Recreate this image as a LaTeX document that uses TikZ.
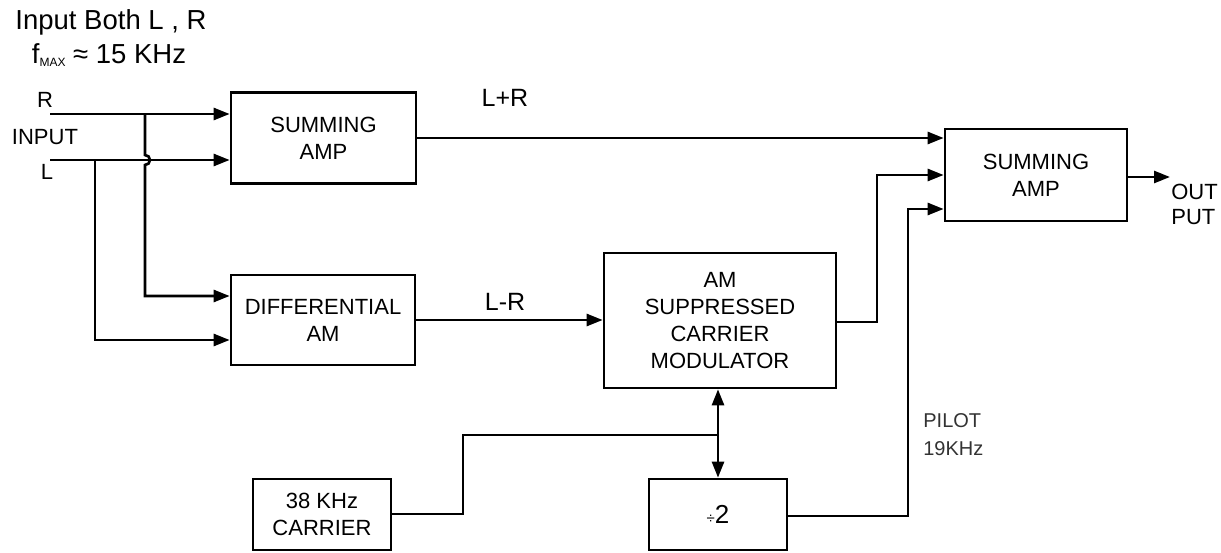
\documentclass[tikz,border=0pt]{standalone}
\usepackage{fontspec}
\setmainfont{Liberation Sans}
\usetikzlibrary{arrows.meta,calc}
\begin{document}
\begin{tikzpicture}[x=1pt,y=-1pt,
  line width=2.7pt, line join=miter,
  blk/.style={draw, rectangle, inner sep=0pt, align=center,
    font=\fontsize{22}{27}\selectfont},
  arr/.style={-{Triangle[length=16pt,width=12pt]}},
  darr/.style={{Triangle[length=16pt,width=12pt]}-{Triangle[length=16pt,width=12pt]}},
  lbl/.style={inner sep=0pt, font=\fontsize{22}{26}\selectfont},
  sig/.style={inner sep=0pt, font=\fontsize{25}{28}\selectfont},
  small/.style={inner sep=0pt, align=left, font=\fontsize{20}{28}\selectfont, text=black!80}]
\useasboundingbox (0,0) rectangle (1221,553);

% title
\node[inner sep=0pt, font=\fontsize{27.5}{30}\selectfont] (title) at (111,22) {Input Both L , R};
\node[inner sep=0pt, font=\fontsize{27.5}{30}\selectfont] (fmax) at (109,55)
  {f\raisebox{-0.25ex}{\fontsize{12}{12}\selectfont MAX} ≈ 15 KHz};

% input labels
\node[lbl] (rlab) at (45,100) {R};
\node[lbl] (inlab) at (45,137) {INPUT};
\node[lbl] (llab) at (47,172) {L};

% blocks
\node[blk, minimum width=185pt, minimum height=91pt] (sum1) at (323.5,138) {SUMMING\\AMP};
\node[blk, minimum width=184pt, minimum height=90pt] (diff) at (323,320) {DIFFERENTIAL\\AM};
\node[blk, minimum width=232pt, minimum height=135pt] (mod) at (720,320.5) {AM\\SUPPRESSED\\CARRIER\\MODULATOR};
\node[blk, minimum width=182pt, minimum height=92pt] (sum2) at (1036,175) {SUMMING\\AMP};
\node[blk, minimum width=138pt, minimum height=71pt] (div) at (718,514.5)
  {{\fontsize{15}{15}\selectfont ÷}{\fontsize{26}{26}\selectfont 2}};
\node[blk, minimum width=138pt, minimum height=71pt] (car) at (322,514.5) {38 KHz\\CARRIER};

% signal labels
\node[sig] (lpr) at (505,98) {L+R};
\node[sig] (lmr) at (505,302) {L-R};
\node[lbl, anchor=west] (outl) at (1170,192) {OUT};
\node[lbl, anchor=west] (putl) at (1170,217) {PUT};
\node[small, anchor=north west] (pilot) at (922,412) {PILOT\\19KHz};

% coordinates
\coordinate (rin) at (50,114);
\coordinate (lin) at (50,160);
\coordinate (rj) at (145,114);
\coordinate (lj) at (95,160);
\coordinate (outp) at (1170,177);
\coordinate (jn) at (718,435);

% inputs
\draw[arr] (rin) -- (rin -| sum1.west);
\draw[arr] (lin) -- (lin -| sum1.west);
\draw[arr] (rj) -- (145,155) arc[start angle=-90, end angle=90, radius=5] -- (145,296) -- (diff.west |- 0,296);
\draw[arr] (lj) -- (95,340) -- (diff.west |- 0,340);

% main paths
\draw[arr] (sum1.east) -- (sum1.east -| sum2.west);
\draw[arr] (diff.east) -- (diff.east -| mod.west);
\draw[arr] (mod.east |- 0,322) -- (877,322) -- (877,175) -- (sum2.west |- 0,175);
\draw[arr] (div.east |- 0,516) -- (908,516) -- (908,209) -- (sum2.west |- 0,209);
\draw[arr] (sum2.east |- outp) -- (outp);

% carrier paths
\draw (car.east |- 0,514) -- (463,514) -- (463,435) -- (jn);
\draw[darr] (mod.south -| jn) -- (div.north -| jn);
\end{tikzpicture}
\end{document}
